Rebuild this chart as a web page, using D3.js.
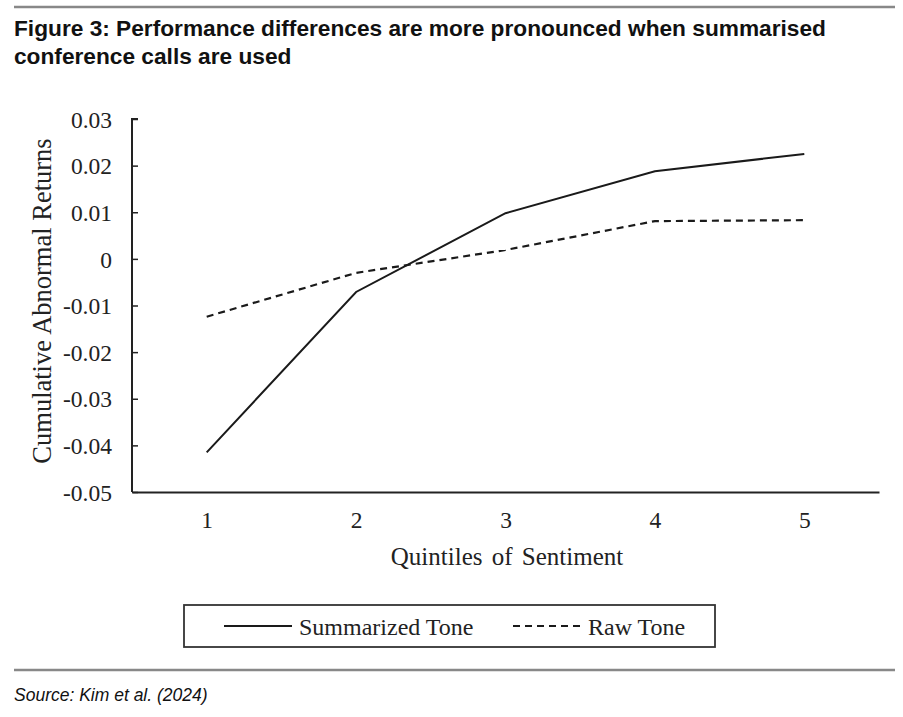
<!DOCTYPE html>
<html><head><meta charset="utf-8">
<script src="https://cdn.jsdelivr.net/npm/d3@7"></script>
<style>body{margin:0;background:#fff}svg{display:block}</style>
</head><body>
<svg id="c" width="903" height="717"></svg>
<script>
const quintiles = [1, 2, 3, 4, 5];
const summarizedTone = [-0.0415, -0.0071, 0.0098, 0.0188, 0.0225];
const rawTone = [-0.0124, -0.0030, 0.0019, 0.0081, 0.0083];
const yTicks = [-0.05, -0.04, -0.03, -0.02, -0.01, 0, 0.01, 0.02, 0.03];
const yTickLabels = ["-0.05","-0.04","-0.03","-0.02","-0.01","0","0.01","0.02","0.03"];
const seriesNames = ["Summarized Tone", "Raw Tone"];

const svg = d3.select("#c");
const serif = "'Liberation Serif','Times New Roman',serif";
const sans = "'Liberation Sans',Arial,sans-serif";

// top rule
svg.append("line").attr("x1",14).attr("x2",895).attr("y1",7).attr("y2",7)
  .attr("stroke","#888").attr("stroke-width",2.5);
// title
const title = svg.append("text").attr("font-family",sans).attr("font-weight","bold")
  .attr("font-size",22.7).attr("fill","#111");
title.append("tspan").attr("x",14).attr("y",36).text("Figure 3: Performance differences are more pronounced when summarised");
title.append("tspan").attr("x",14).attr("y",64).text("conference calls are used");

const x = d3.scaleLinear().domain([0.5,5.5]).range([132,879]);
const y = d3.scaleLinear().domain([-0.05,0.03]).range([492,119]);

// y axis
const yAxis = d3.axisRight(y).tickValues(yTicks).tickSize(6).tickFormat((d,i)=>yTickLabels[i]);
const gy = svg.append("g").attr("transform","translate(132,0)").call(yAxis);
gy.select(".domain").attr("stroke","#222").attr("stroke-width",2).attr("d","M6,119H0V492");
gy.selectAll(".tick line").attr("stroke","#222").attr("stroke-width",1.5);
gy.selectAll(".tick text").attr("x",-20).attr("text-anchor","end")
  .attr("font-family",serif).attr("font-size",23.5).attr("fill","#222").attr("dy","0.35em");

// x axis
const xAxis = d3.axisBottom(x).tickValues(quintiles).tickSize(0).tickFormat(d3.format("d"));
const gx = svg.append("g").attr("transform","translate(0,492)").call(xAxis);
gx.select(".domain").attr("stroke","#222").attr("stroke-width",2);
gx.selectAll(".tick text").attr("y",19).attr("font-family",serif).attr("font-size",23.5).attr("fill","#222");

// axis labels
svg.append("text").attr("x",507).attr("y",565).attr("text-anchor","middle")
  .attr("font-family",serif).attr("font-size",25).attr("fill","#222").attr("word-spacing",3)
  .text("Quintiles of Sentiment");
svg.append("text").attr("transform","translate(51,301) rotate(-90)").attr("text-anchor","middle")
  .attr("font-family",serif).attr("font-size",26.5).attr("fill","#222")
  .text("Cumulative Abnormal Returns");

// lines
const line = d3.line().x((d,i)=>x(quintiles[i])).y(d=>y(d));
svg.append("path").datum(summarizedTone).attr("d",line).attr("fill","none")
  .attr("stroke","#1a1a1a").attr("stroke-width",2);
svg.append("path").datum(rawTone).attr("d",line).attr("fill","none")
  .attr("stroke","#1a1a1a").attr("stroke-width",2.2).attr("stroke-dasharray","7,5");

// legend
const lg = svg.append("g");
lg.append("rect").attr("x",184).attr("y",605).attr("width",531).attr("height",42)
  .attr("fill","#fff").attr("stroke","#333").attr("stroke-width",1.8);
lg.append("line").attr("x1",224).attr("x2",292).attr("y1",626).attr("y2",626)
  .attr("stroke","#1a1a1a").attr("stroke-width",1.8);
lg.append("text").attr("x",299).attr("y",635).attr("font-family",serif).attr("font-size",24)
  .attr("fill","#222").text(seriesNames[0]);
lg.append("line").attr("x1",513).attr("x2",582).attr("y1",626).attr("y2",626)
  .attr("stroke","#1a1a1a").attr("stroke-width",1.8).attr("stroke-dasharray","7,5");
lg.append("text").attr("x",588).attr("y",635).attr("font-family",serif).attr("font-size",24)
  .attr("fill","#222").text(seriesNames[1]);

// bottom rule and source
svg.append("line").attr("x1",14).attr("x2",895).attr("y1",670).attr("y2",670)
  .attr("stroke","#888").attr("stroke-width",2.5);
svg.append("text").attr("x",14).attr("y",701).attr("font-family",sans).attr("font-style","italic")
  .attr("font-size",17.5).attr("fill","#111").text("Source: Kim et al. (2024)");
</script>
</body></html>
